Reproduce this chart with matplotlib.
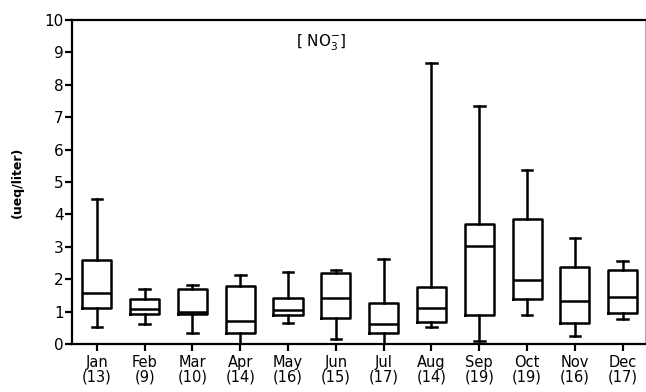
import matplotlib
matplotlib.use("Agg")
import matplotlib.pyplot as plt

months = ["Jan", "Feb", "Mar", "Apr", "May", "Jun",
          "Jul", "Aug", "Sep", "Oct", "Nov", "Dec"]
counts = [13, 9, 10, 14, 16, 15, 17, 14, 19, 19, 16, 17]

whisker_low = [0.52, 0.62, 0.33, 0.00, 0.66, 0.14, 0.00, 0.54, 0.10, 0.89, 0.26, 0.76]
q1 = [1.10, 0.92, 0.92, 0.35, 0.90, 0.81, 0.33, 0.67, 0.90, 1.38, 0.64, 0.97]
median = [1.57, 1.07, 1.00, 0.71, 1.05, 1.43, 0.62, 1.10, 3.03, 1.96, 1.33, 1.44]
q3 = [2.58, 1.38, 1.69, 1.79, 1.41, 2.18, 1.28, 1.75, 3.71, 3.85, 2.39, 2.29]
whisker_high = [4.47, 1.69, 1.82, 2.12, 2.23, 2.29, 2.62, 8.66, 7.34, 5.38, 3.27, 2.57]

y_ticks = list(range(0, 11))

plt.rcParams["font.family"] = ["DejaVu Sans"]

fig = plt.figure(figsize=(6.46, 3.92), dpi=100)
ax = fig.add_axes([72 / 646, 1 - 344 / 392, 1 - 72 / 646 - 0.002, (344 - 20) / 392])

stats = []
for i, m in enumerate(months):
    stats.append(dict(label=m, whislo=whisker_low[i], q1=q1[i], med=median[i],
                      q3=q3[i], whishi=whisker_high[i], fliers=[]))

lw = 1.8
positions = list(range(1, len(months) + 1))
ax.bxp(stats, positions=positions, widths=0.61, capwidths=0.22,
       showfliers=False,
       boxprops=dict(color="black", linewidth=lw),
       medianprops=dict(color="black", linewidth=lw),
       whiskerprops=dict(color="black", linewidth=lw),
       capprops=dict(color="black", linewidth=lw))

ax.set_xlim(0.48, 12.46)
ax.set_ylim(0, 10)
ax.set_yticks(y_ticks)
ax.set_yticklabels([str(v) for v in y_ticks], fontsize=11)
ax.set_xticks(positions)
ax.set_xticklabels([f"{m}\n({n})" for m, n in zip(months, counts)],
                   fontsize=10.5, linespacing=0.95)

ax.tick_params(axis="both", direction="out", length=5, width=1.6, colors="black")
ax.tick_params(axis="y", pad=1)
ax.tick_params(axis="x", pad=3)

for side in ["left", "bottom", "top"]:
    ax.spines[side].set_linewidth(1.6)
ax.spines["right"].set_linewidth(0.6)
ax.spines["right"].set_color("#999999")

ax.set_ylabel("(ueq/liter)", fontsize=9, fontweight="bold", labelpad=15)
fig.text(321 / 646, 1 - 43 / 392, r"[ NO$_3^{-}$]", fontsize=11,
         ha="center", va="center")

fig.savefig("out.png", dpi=100)
